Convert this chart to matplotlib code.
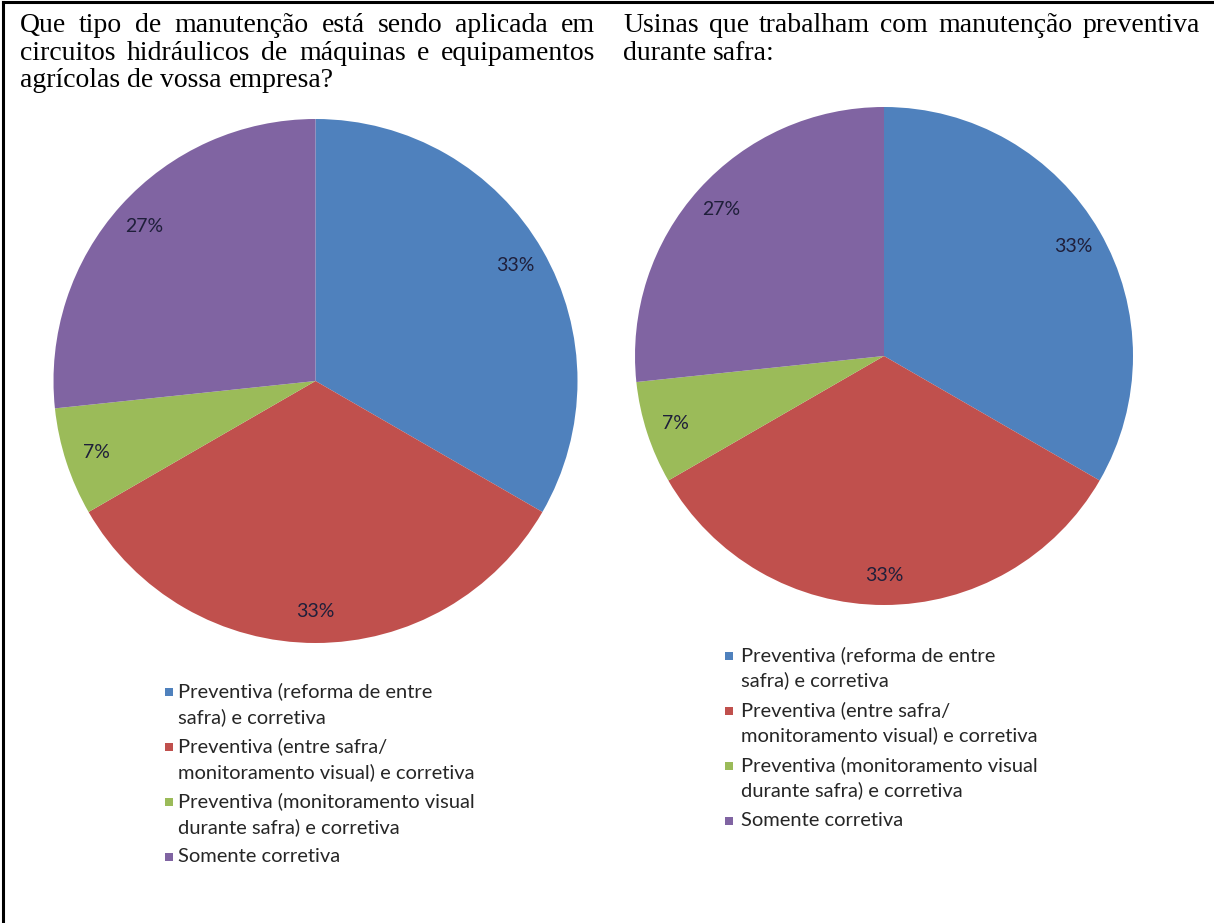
import matplotlib.pyplot as plt
from matplotlib.lines import Line2D
from matplotlib.patches import Rectangle

# -------------------------
# Data
# -------------------------
categories = [
    "Preventiva (reforma de entre\nsafra) e corretiva",
    "Preventiva (entre safra/\nmonitoramento visual) e corretiva",
    "Preventiva (monitoramento visual\ndurante safra) e corretiva",
    "Somente corretiva",
]
colors = ["#4F81BD", "#C0504D", "#9BBB59", "#8064A2"]

# respostas (contagens): 33%, 33%, 7%, 27%
left_values = [5, 5, 1, 4]
right_values = [5, 5, 1, 4]

left_title = [
    "Que tipo de manutenção está sendo aplicada em",
    "circuitos hidráulicos de máquinas e equipamentos",
    "agrícolas de vossa empresa?",
]
right_title = [
    "Usinas que trabalham com manutenção preventiva",
    "durante safra:",
]

# -------------------------
# Figure
# -------------------------
W, H = 1214, 923
fig = plt.figure(figsize=(W / 100, H / 100), dpi=100)
fig.patch.set_facecolor("white")


def fx(x):
    return x / W


def fy(y):
    return 1 - y / H


renderer = fig.canvas.get_renderer()
serif = "Liberation Serif"
title_size = 20


def text_width(s):
    t = fig.text(0, 0, s, family=serif, fontsize=title_size)
    w = t.get_window_extent(renderer).width
    t.remove()
    return w


def justified_line(words, x0, x1, y, justify=True):
    texts = [fig.text(0, fy(y), w, family=serif, fontsize=title_size,
                      va="baseline", ha="left") for w in words]
    widths = [t.get_window_extent(renderer).width for t in texts]
    if justify and len(words) > 1:
        gap = (x1 - x0 - sum(widths)) / (len(words) - 1)
    else:
        gap = text_width("a a") - text_width("aa")
    x = x0
    for t, w in zip(texts, widths):
        t.set_x(fx(x))
        x += w + gap


baselines = [32, 60, 87]
for i, line in enumerate(left_title):
    justified_line(line.split(), 20, 595, baselines[i], justify=i < len(left_title) - 1)
for i, line in enumerate(right_title):
    justified_line(line.split(), 623, 1200, baselines[i], justify=i < len(right_title) - 1)

# frame lines
fig.add_artist(Line2D([fx(3), 1], [fy(2), fy(2)], transform=fig.transFigure,
                      color="black", lw=2.2))
fig.add_artist(Line2D([fx(3), fx(3)], [fy(2), 0], transform=fig.transFigure,
                      color="black", lw=2.2))


# -------------------------
# Pies
# -------------------------
def draw_pie(values, cx, cy, r):
    ax = fig.add_axes([fx(cx - r), fy(cy + r), 2 * r / W, 2 * r / H])
    wedges, _, autotexts = ax.pie(
        values, colors=colors, startangle=90, counterclock=False,
        autopct="%.0f%%", pctdistance=0.88,
        wedgeprops=dict(linewidth=0),
        textprops=dict(family="Lato", fontsize=14, color="#1f1f3a"),
    )
    ax.set_xlim(-1, 1)
    ax.set_ylim(-1, 1)
    return wedges


draw_pie(left_values, 315.5, 381, 262)
draw_pie(right_values, 884, 356, 249)


# -------------------------
# Legends
# -------------------------
def draw_legend(x_marker, x_text, first_line_y, line_h, entry_gap):
    y = first_line_y
    for lab, c in zip(categories, colors):
        fig.add_artist(Rectangle((fx(x_marker), fy(y - 1)), 8 / W, 8 / H,
                                 transform=fig.transFigure, color=c, lw=0))
        lines = lab.split("\n")
        for k, ln in enumerate(lines):
            fig.text(fx(x_text), fy(y + k * line_h), ln, family="Lato",
                     fontsize=14.5, color="#262626", va="baseline", ha="left")
        y += line_h * (len(lines) - 1) + entry_gap


draw_legend(165, 178, 697, 26, 29)
draw_legend(725, 741, 661, 25, 30)

plt.savefig("out.png", dpi=100)
